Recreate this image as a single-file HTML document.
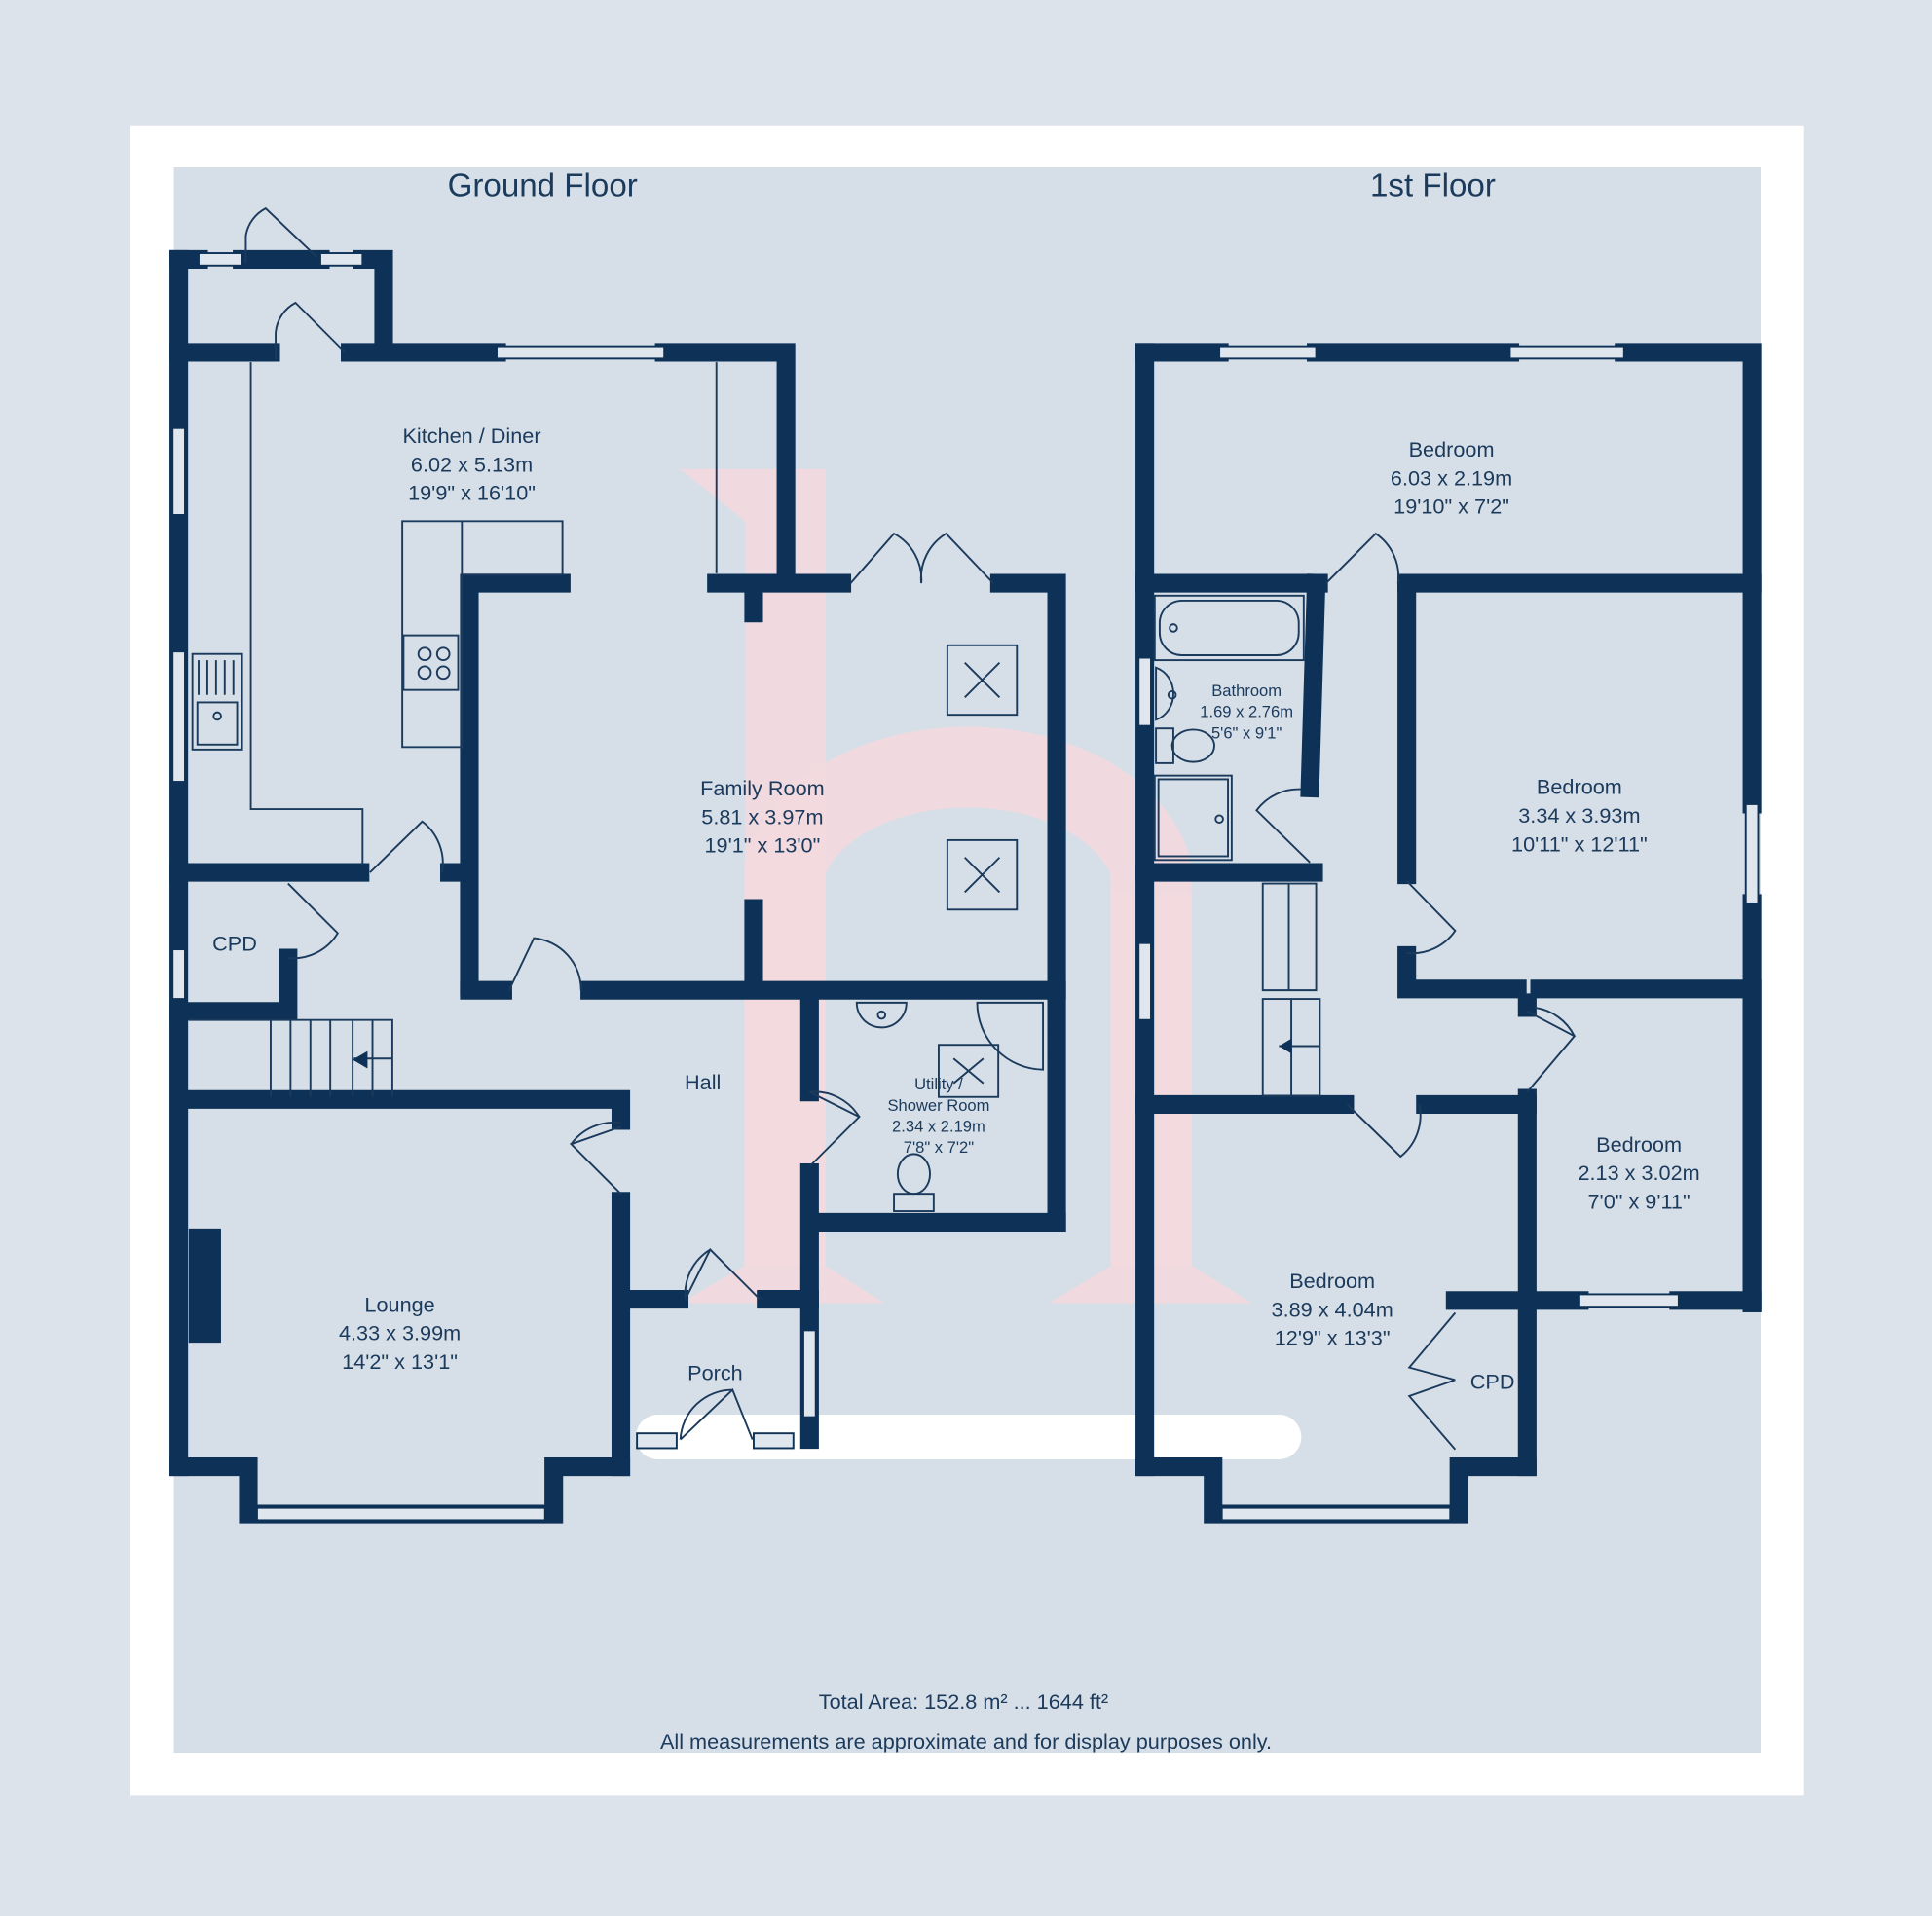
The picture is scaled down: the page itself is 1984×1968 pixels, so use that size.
<!DOCTYPE html>
<html><head><meta charset="utf-8"><style>
html,body{margin:0;padding:0;background:#dde3ea}
svg{display:block}
text{font-family:"Liberation Sans",sans-serif;fill:#1b3a5c}
</style></head><body>
<svg width="1984" height="1968" viewBox="0 0 1556 1544" preserveAspectRatio="none" xmlns="http://www.w3.org/2000/svg">
<rect x="0" y="0" width="1556" height="1544" fill="#dde3ea"/>
<rect x="105" y="101" width="1348" height="1346" fill="#ffffff"/>
<rect x="140" y="135" width="1278" height="1278" fill="#d6dfe7"/>
<!-- watermark -->
<g fill="#f3d9de" opacity="0.9">
<path d="M548 378 L665 378 L665 1020 L712 1050 L548 1050 L600 1020 L600 420 Z"/>
<path d="M895 1020 L895 720 L960 720 L960 1020 L1008 1050 L845 1050 Z"/>
</g>
<path d="M632 1020 L632 700 A 150 100 0 0 1 927 700 L927 1020" stroke="#f3d9de" stroke-width="65" fill="none" opacity="0.9"/>
<rect x="512" y="1140" width="536" height="36" rx="18" fill="#ffffff"/>

<text x="437" y="158" font-size="26" text-anchor="middle">Ground Floor</text>
<text x="1154" y="158" font-size="26" text-anchor="middle">1st Floor</text>

<g stroke="#0e3257" stroke-width="15" fill="none" stroke-linecap="square">
<path d="M144 209 L144 1182"/>
<path d="M144 209 L160 209 M195 209 L258 209 M292 209 L309 209 L309 278"/>
<path d="M144 284 L218 284 M282 284 L400 284 M535 284 L633 284 L633 462"/>
<path d="M577 470 L678 470 M805 470 L851 470 L851 985"/>
<path d="M378 470 L452 470 M378 470 L378 795"/>
<path d="M378 798 L405 798 M475 798 L851 798"/>
<path d="M607 478 L607 494 M607 732 L607 790"/>
<path d="M144 703 L290 703 M362 703 L372 703"/>
<path d="M232 772 L232 812 M144 815 L232 815"/>
<path d="M150 886 L500 886 L500 903 M500 968 L500 1182"/>
<path d="M144 1182 L200 1182 L200 1220 L446 1220 L446 1182 L500 1182"/>
<path d="M508 1047 L547 1047 M617 1047 L652 1047"/>
<path d="M652 805 L652 880 M652 945 L652 1160"/>
<path d="M660 985 L851 985"/>
<path d="M922 284 L922 1182"/>
<path d="M922 284 L982 284 M1060 284 L1216 284 M1308 284 L1411 284 L1411 648 M1411 728 L1411 1050"/>
<path d="M922 470 L1062 470 M1133 470 L1411 470"/>
<path d="M1060 470 L1055 635"/>
<path d="M1133 470 L1133 705 M1133 770 L1133 797 L1222 797 M1240 797 L1411 797 L1411 1050"/>
<path d="M922 703 L1058 703"/>
<path d="M922 890 L1083 890 M1148 890 L1230 890"/>
<path d="M1230 808 L1230 812 M1230 885 L1230 1182"/>
<path d="M1172 1048 L1272 1048 M1352 1048 L1411 1048"/>
<path d="M922 1182 L977 1182 L977 1220 L1175 1220 L1175 1182 L1230 1182"/>
</g>
<g fill="#dfe6ed" stroke="#0e3257" stroke-width="1.5">
<rect x="160" y="204" width="35" height="10"/><rect x="258" y="204" width="34" height="10"/>
<rect x="400" y="279" width="135" height="10"/>
<rect x="139" y="345" width="10" height="70"/><rect x="139" y="525" width="10" height="105"/>
<rect x="139" y="765" width="10" height="40"/>
<rect x="207" y="1215" width="232" height="10"/>
<rect x="647" y="1072" width="10" height="70"/>
<rect x="513" y="1155" width="32" height="12"/><rect x="607" y="1155" width="32" height="12"/>
<rect x="982" y="279" width="78" height="10"/><rect x="1216" y="279" width="92" height="10"/>
<rect x="1406" y="648" width="10" height="80"/>
<rect x="917" y="530" width="10" height="55"/><rect x="917" y="760" width="10" height="62"/>
<rect x="1272" y="1043" width="80" height="10"/>
<rect x="984" y="1215" width="184" height="10"/>
</g>
<rect x="152" y="990" width="26" height="92" fill="#0e3257"/>
<g stroke="#1b3a5c" stroke-width="1.5" fill="none">
<path d="M202 292 L202 652 L292 652 L292 697"/>
<path d="M577 292 L577 462"/>
<path d="M324 420 L453 420 L453 463 L372 463 L372 602 L324 602 Z M372 420 L372 463"/>
<rect x="325" y="512" width="44" height="44"/>
<circle cx="342" cy="527" r="5"/><circle cx="357" cy="527" r="5"/><circle cx="342" cy="542" r="5"/><circle cx="357" cy="542" r="5"/>
<rect x="155" y="527" width="40" height="77"/><rect x="159" y="566" width="32" height="34"/><circle cx="175" cy="577" r="3"/>
<path d="M160 532 L160 560 M167 532 L167 560 M174 532 L174 560 M181 532 L181 560 M188 532 L188 560"/>
<path d="M198 212 L198 190 A30 30 0 0 1 214 168 L255 207"/>
<path d="M222 290 L222 268 A30 30 0 0 1 238 244 L278 284"/>
<path d="M298 703 L340 662 A42 42 0 0 1 356 703"/>
<path d="M685 470 L720 430 A42 42 0 0 1 742 470 M800 470 L762 430 A42 42 0 0 0 742 470"/>
<path d="M410 798 L430 756 A42 42 0 0 1 468 798"/>
<path d="M232 712 L272 752 A42 42 0 0 1 232 772"/>
<path d="M500 908 L460 922 L500 962 M460 922 A42 42 0 0 1 500 905"/>
<path d="M652 880 L692 900 L652 940 M692 900 A42 42 0 0 0 652 880"/>
<path d="M552 1047 L572 1007 L612 1047 M552 1047 A42 42 0 0 1 572 1007"/>
<path d="M548 1160 L590 1120 L606 1160 M548 1160 A42 42 0 0 1 590 1120"/>
<path d="M152 822 L316 822 L316 884 M218 822 L218 884 M234 822 L234 884 M250 822 L250 884 M266 822 L266 884 M284 822 L284 884 M300 822 L300 884 M285 853 L316 853"/>
<rect x="763" y="520" width="56" height="56"/><path d="M777 534 L805 562 M805 534 L777 562"/>
<rect x="763" y="677" width="56" height="56"/><path d="M777 691 L805 719 M805 691 L777 719"/>
<rect x="756" y="842" width="48" height="42"/><path d="M768 853 L792 873 M792 853 L768 873"/>
<path d="M690 808 A20 20 0 0 0 730 808 Z"/><circle cx="710" cy="818" r="3"/>
<path d="M787 808 L840 808 L840 862 A54 54 0 0 1 787 808 Z"/>
<rect x="720" y="962" width="32" height="14"/><ellipse cx="736" cy="946" rx="13" ry="16"/>
<path d="M1068 470 L1108 430 A42 42 0 0 1 1126 470"/>
<path d="M1055 695 L1012 653 A42 42 0 0 1 1048 636"/>
<path d="M1133 710 L1172 750 A42 42 0 0 1 1133 768"/>
<path d="M1230 815 L1268 835 L1230 880 M1268 835 A42 42 0 0 0 1236 812"/>
<path d="M1085 890 L1128 932 A42 42 0 0 0 1143 890"/>
<path d="M1172 1058 L1135 1102 L1172 1112 M1172 1168 L1135 1125 L1172 1112"/>
<rect x="930" y="480" width="120" height="52"/><rect x="934" y="484" width="112" height="44" rx="18"/><circle cx="945" cy="506" r="3"/>
<path d="M931 538 A20 22 0 0 1 931 580 Z"/><circle cx="944" cy="560" r="3"/>
<rect x="931" y="587" width="14" height="28"/><ellipse cx="961" cy="601" rx="17" ry="13"/>
<rect x="930" y="625" width="62" height="68"/><rect x="933" y="628" width="56" height="62"/><circle cx="982" cy="660" r="3"/>
<path d="M1017 712 L1060 712 L1060 798 L1017 798 Z M1038 712 L1038 798 M1017 805 L1063 805 L1063 883 L1017 883 Z M1040 805 L1040 883 M1030 843 L1063 843"/>
</g>
<path d="M284 854 L296 847 L296 861 Z" fill="#0e3257"/>
<path d="M1030 843 L1040 837 L1040 849 Z" fill="#0e3257"/>

<g font-size="17" text-anchor="middle">
<text x="380" y="357">Kitchen / Diner</text><text x="380" y="380">6.02 x 5.13m</text><text x="380" y="403">19'9" x 16'10"</text>
<text x="614" y="641">Family Room</text><text x="614" y="664">5.81 x 3.97m</text><text x="614" y="687">19'1" x 13'0"</text>
<text x="189" y="766">CPD</text>
<text x="566" y="878">Hall</text>
<text x="322" y="1057">Lounge</text><text x="322" y="1080">4.33 x 3.99m</text><text x="322" y="1103">14'2" x 13'1"</text>
<text x="576" y="1112">Porch</text>
<text x="1169" y="368">Bedroom</text><text x="1169" y="391">6.03 x 2.19m</text><text x="1169" y="414">19'10" x 7'2"</text>
<text x="1272" y="640">Bedroom</text><text x="1272" y="663">3.34 x 3.93m</text><text x="1272" y="686">10'11" x 12'11"</text>
<text x="1320" y="928">Bedroom</text><text x="1320" y="951">2.13 x 3.02m</text><text x="1320" y="974">7'0" x 9'11"</text>
<text x="1073" y="1038">Bedroom</text><text x="1073" y="1061">3.89 x 4.04m</text><text x="1073" y="1084">12'9" x 13'3"</text>
<text x="1202" y="1119">CPD</text>
</g>
<g font-size="13" text-anchor="middle">
<text x="1004" y="561">Bathroom</text><text x="1004" y="578">1.69 x 2.76m</text><text x="1004" y="595">5'6" x 9'1"</text>
<text x="756" y="878">Utility /</text><text x="756" y="895">Shower Room</text><text x="756" y="912">2.34 x 2.19m</text><text x="756" y="929">7'8" x 7'2"</text>
</g>
<text x="776" y="1377" font-size="17" text-anchor="middle">Total Area: 152.8 m² ... 1644 ft²</text>
<text x="778" y="1409" font-size="17" text-anchor="middle">All measurements are approximate and for display purposes only.</text>
</svg>
</body></html>
